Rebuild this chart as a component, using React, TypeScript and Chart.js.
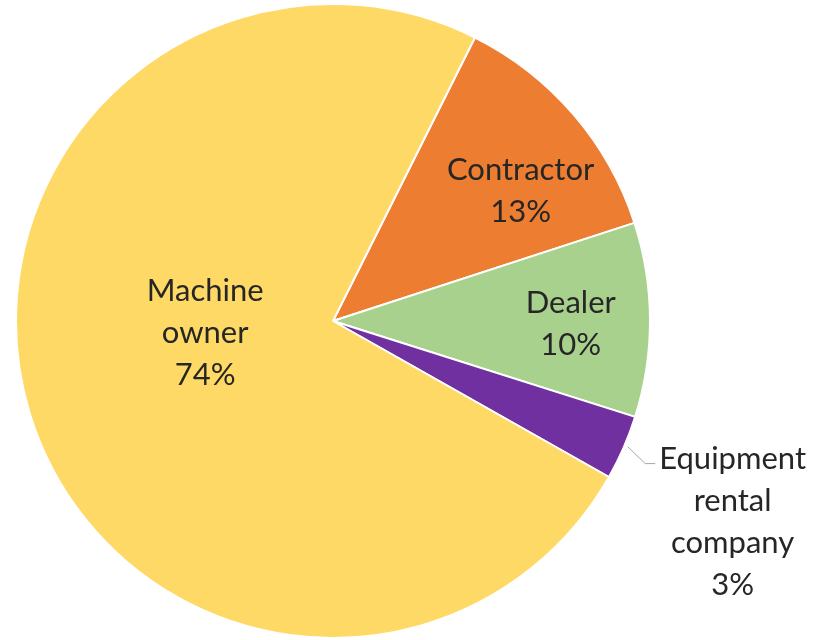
import React, { useEffect, useRef } from "react";
import { Chart, registerables } from "chart.js";

Chart.register(...registerables);

const categories = ["Contractor", "Dealer", "Equipment rental company", "Machine owner"];
const values = [12.6, 9.9, 3.3, 74.2];
const labelLines = [
  ["Contractor", "13%"],
  ["Dealer", "10%"],
  ["Equipment", "rental", "company", "3%"],
  ["Machine", "owner", "74%"],
];
const colors = ["#ED7D31", "#A9D18E", "#7030A0", "#FFD966"];

// label placement: inside labels as fraction of radius + angle tweak (deg); outside with offset
const labelPlacement: any[] = [
  { mode: "inside", f: 0.72, dAngle: 6 },
  { mode: "inside", f: 0.75, dAngle: 1 },
  { mode: "outside", dx: 109, dy: 74 },
  { mode: "inside", f: 0.405, dAngle: 11.8 },
];

const FONT_SIZE = 31;
const LINE_H = 42;
const FONT = `${FONT_SIZE}px Lato, "Open Sans", sans-serif`;

const labelPlugin = {
  id: "sliceLabels",
  afterDatasetsDraw(chart: any) {
    const ctx = chart.ctx;
    const meta = chart.getDatasetMeta(0);
    ctx.save();
    ctx.font = FONT;
    ctx.fillStyle = "#262626";
    ctx.textAlign = "center";
    ctx.textBaseline = "middle";
    meta.data.forEach((arc: any, i: number) => {
      const p = arc.getProps(["x", "y", "startAngle", "endAngle", "outerRadius"], true);
      const mid = (p.startAngle + p.endAngle) / 2;
      const pl = labelPlacement[i];
      const lines = labelLines[i];
      let cx: number, cy: number;
      if (pl.mode === "inside") {
        const a = mid + (pl.dAngle * Math.PI) / 180;
        cx = p.x + Math.cos(a) * p.outerRadius * pl.f;
        cy = p.y + Math.sin(a) * p.outerRadius * pl.f;
      } else {
        const ex = p.x + Math.cos(mid) * p.outerRadius;
        const ey = p.y + Math.sin(mid) * p.outerRadius;
        cx = ex + pl.dx;
        cy = ey + pl.dy;
        const topY = cy - ((lines.length - 1) * LINE_H) / 2;
        const textLeft = cx - ctx.measureText(lines[0]).width / 2;
        ctx.strokeStyle = "#A6A6A6";
        ctx.lineWidth = 1;
        ctx.beginPath();
        ctx.moveTo(ex + 4, ey - 1);
        ctx.lineTo(textLeft - 14, topY + 5);
        ctx.lineTo(textLeft - 4, topY + 5);
        ctx.stroke();
      }
      const y0 = cy - ((lines.length - 1) * LINE_H) / 2;
      lines.forEach((l: string, k: number) => ctx.fillText(l, cx, y0 + k * LINE_H));
    });
    ctx.restore();
  },
};

export default function App() {
  const ref = useRef<HTMLCanvasElement | null>(null);
  useEffect(() => {
    if (!ref.current) return;
    const chart = new Chart(ref.current, {
      type: "pie",
      data: {
        labels: categories,
        datasets: [
          {
            data: values,
            backgroundColor: colors,
            borderColor: "#FFFFFF",
            borderWidth: 2,
          },
        ],
      },
      options: {
        responsive: false,
        animation: false,
        rotation: 26.6,
        layout: { padding: { left: 15, right: 163, top: 3, bottom: 1 } },
        plugins: { legend: { display: false }, tooltip: { enabled: false } },
      },
      plugins: [labelPlugin],
    });
    return () => chart.destroy();
  }, []);
  return (
    <div style={{ position: "absolute", left: 0, top: 0, width: 814, height: 640, background: "#fff" }}>
      <canvas ref={ref} width={814} height={640} />
    </div>
  );
}
